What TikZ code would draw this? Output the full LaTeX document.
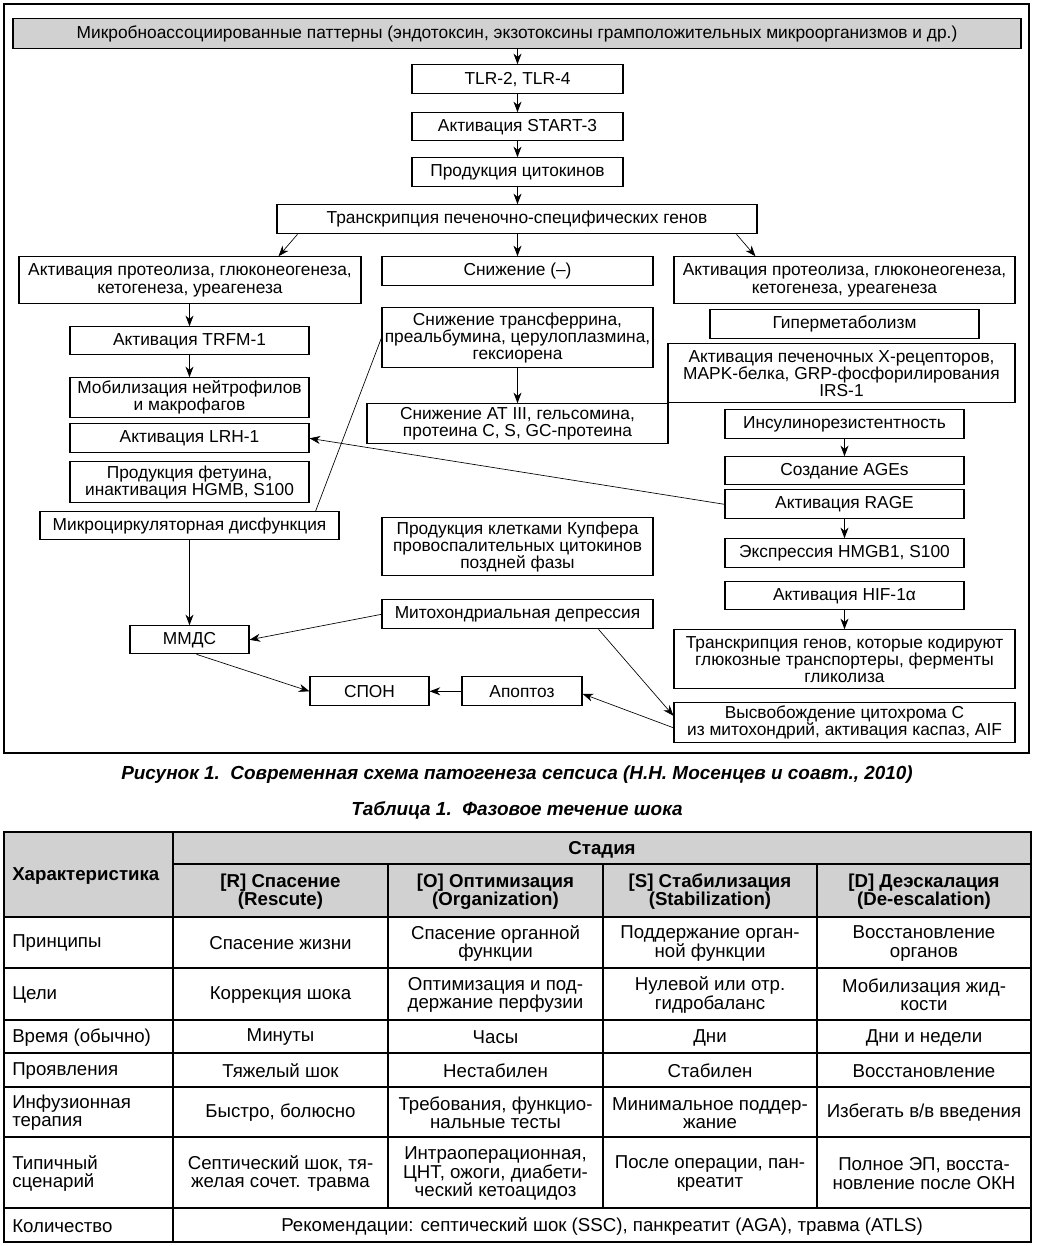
\documentclass[tikz,border=0pt]{standalone}
\usepackage{fontspec}
\setmainfont{Liberation Sans}
\usetikzlibrary{arrows.meta,calc}
\definecolor{hdr}{gray}{0.82}
\tikzset{
  box/.style={draw, line width=0.8pt, inner sep=0pt, align=center, fill=white,
    font=\fontsize{13}{12.8}\selectfont},
  arr/.style={line width=0.75pt, -{Stealth[length=8pt,width=6pt,inset=2.5pt]}},
  tarr/.style={line width=0.5pt, -{Stealth[length=8pt,width=6pt,inset=2.5pt]}},
  tline/.style={line width=0.5pt},
  cell/.style={inner sep=0pt, align=center, font=\fontsize{14}{13.7}\selectfont},
  lcell/.style={inner sep=0pt, align=left, anchor=west, font=\fontsize{14}{13.7}\selectfont},
  hcell/.style={inner sep=0pt, align=center, font=\fontsize{14}{13.7}\selectfont\bfseries},
  grid/.style={line width=0.8pt},
  capt/.style={inner sep=0pt, font=\fontsize{14.2}{15}\selectfont\bfseries\itshape}
}
\newcommand\bx[7][]{\node[box,#1,minimum width={(#5-#3)*0.75pt},minimum height={(#6-#4)*0.75pt}] (#2) at ({(#3+#5)/2},{(#4+#6)/2+0.8}) {#7};}
\begin{document}
\begin{tikzpicture}[x=0.75pt,y=-0.75pt]
\useasboundingbox (0,0) rectangle (1036,1246);
% frame
\draw[line width=0.8pt] (4,4) rectangle (1029,753);
% boxes
\bx[fill=hdr]{top}{13}{18}{1021}{48}{Микробноассоциированные паттерны (эндотоксин, экзотоксины грамположительных микроорганизмов и др.)}
\bx{tlr}{412}{64}{623}{93}{TLR-2, TLR-4}
\bx{start}{412}{112}{623}{140}{Активация START-3}
\bx{cyto}{412}{157}{623}{186}{Продукция цитокинов}
\bx{trans}{277}{204}{757}{233}{Транскрипция печеночно-специфических генов}
\bx{lprot}{19}{256}{361}{303}{Активация протеолиза, глюконеогенеза,\\кетогенеза, уреагенеза}
\bx{dec}{382}{256}{653}{285}{Снижение (–)}
\bx{rprot}{674}{256}{1015}{303}{Активация протеолиза, глюконеогенеза,\\кетогенеза, уреагенеза}
\bx{trfm}{70}{326}{309}{354}{Активация TRFM-1}
\bx{mob}{70}{377}{309}{417}{Мобилизация нейтрофилов\\и макрофагов}
\bx{lrh}{70}{423}{309}{452}{Активация LRH-1}
\bx{fet}{70}{461}{309}{502}{Продукция фетуина,\\инактивация HGMB, S100}
\bx{micro}{40}{511}{339}{539}{Микроциркуляторная дисфункция}
\bx{transf}{382}{307}{653}{367}{Снижение трансферрина,\\преальбумина, церулоплазмина,\\гексиорена}
\bx{at3}{367}{403}{668}{443}{Снижение AT III, гельсомина,\\протеина C, S, GC-протеина}
\bx{hyper}{710}{309}{979}{338}{Гиперметаболизм}
\bx{xrec}{668}{343}{1015}{402}{Активация печеночных X-рецепторов,\\MAPK-белка, GRP-фосфорилирования\\IRS-1}
\bx{insul}{725}{409}{964}{438}{Инсулинорезистентность}
\bx{ages}{725}{456}{964}{484}{Создание AGEs}
\bx{rage}{725}{489}{964}{518}{Активация RAGE}
\bx{hmgb}{725}{538}{964}{567}{Экспрессия HMGB1, S100}
\bx{hif}{725}{581}{964}{609}{Активация HIF-1α}
\bx{glyc}{674}{629}{1015}{688}{Транскрипция генов, которые кодируют\\глюкозные транспортеры, ферменты\\гликолиза}
\bx{cytc}{674}{702}{1015}{742}{Высвобождение цитохрома C\\из митохондрий, активация каспаз, AIF}
\bx{kupf}{382}{517}{653}{575}{Продукция клетками Купфера\\провоспалительных цитокинов\\поздней фазы}
\bx{mito}{382}{599}{653}{628}{Митохондриальная депрессия}
\bx{mmds}{130}{625}{249}{653}{ММДС}
\bx{spon}{310}{676}{429}{705}{СПОН}
\bx{apop}{462}{676}{582}{705}{Апоптоз}
% connectors
\draw[arr] (top.south -| tlr.north) -- (tlr.north);
\draw[arr] (tlr) -- (start);
\draw[arr] (start) -- (cyto);
\draw[arr] (cyto.south) -- (cyto.south |- trans.north);
\draw[arr] (trans.south -| dec.north) -- (dec.north);
\draw[tarr] ($(trans.south west)+(21,0)$) -- ($(lprot.north east)+(-83,0)$);
\draw[tarr] ($(trans.south east)+(-21,0)$) -- ($(rprot.north west)+(82,0)$);
\draw[arr] (lprot.south -| trfm.north) -- (trfm.north);
\draw[arr] (trfm) -- (mob);
\draw[arr] (micro.south -| mmds.north) -- (mmds.north);
\draw[tline] ($(micro.north east)+(-24,0)$) -- (transf.west);
\draw[arr] (transf.south -| at3.north) -- (at3.north);
\draw[arr] (insul) -- (ages);
\draw[arr] (rage) -- (hmgb);
\draw[arr] (hif) -- (glyc);
\draw[tarr] (rage.west) -- (lrh.east);
\draw[tarr] (mito.west) -- (mmds.east);
\draw[tarr] ($(mmds.south)+(7,0)$) -- (spon.west);
\draw[arr] (apop) -- (spon);
\draw[tarr] ($(mito.south east)+(-55,0)$) -- ($(cytc.west)+(0,-7)$);
\draw[tarr] ($(cytc.west)+(0,5)$) -- ($(apop.east)+(0,2.5)$);
% captions
\node[capt] (cap1) at (517,775) {Рисунок 1.\ \ Современная схема патогенеза сепсиса (Н.Н. Мосенцев и соавт., 2010)};
\node[capt] (cap2) at (517,810) {Таблица 1.\ \ Фазовое течение шока};
% table
\fill[hdr] (4,832) rectangle (1031,917);
\draw[grid] (4,832) rectangle (1031,1242);
\foreach \yy in {917,968,1020,1053,1087,1137,1208} \draw[grid] (4,\yy) -- (1031,\yy);
\draw[grid] (173,864) -- (1031,864);
\draw[grid] (173,832) -- (173,1242);
\foreach \xx in {388,603,817} \draw[grid] (\xx,864) -- (\xx,1208);
\node[hcell, anchor=west] (hchar) at (12,876) {Характеристика};
\node[hcell] (hstage) at (602,849.5) {Стадия};
\node[hcell] (hR) at (280.5,891.5) {[R] Спасение\\(Rescute)};
\node[hcell] (hO) at (495.5,891.5) {[O] Оптимизация\\(Organization)};
\node[hcell] (hS) at (710,891.5) {[S] Стабилизация\\(Stabilization)};
\node[hcell] (hD) at (924,891.5) {[D] Деэскалация\\(De-escalation)};
% row 1
\node[lcell] (r1a) at (12,943.5) {Принципы};
\node[cell] (r1b) at (280.5,943.5) {Спасение жизни};
\node[cell] (r1c) at (495.5,943.5) {Спасение органной\\функции};
\node[cell] (r1d) at (710,943.5) {Поддержание орган-\\ной функции};
\node[cell] (r1e) at (924,943.5) {Восстановление\\органов};
% row 2
\node[lcell] (r2a) at (12,995) {Цели};
\node[cell] (r2b) at (280.5,995) {Коррекция шока};
\node[cell] (r2c) at (495.5,995) {Оптимизация и под-\\держание перфузии};
\node[cell] (r2d) at (710,995) {Нулевой или отр.\\гидробаланс};
\node[cell] (r2e) at (924,995) {Мобилизация жид-\\кости};
% row 3
\node[lcell] (r3a) at (12,1037.5) {Время (обычно)};
\node[cell] (r3b) at (280.5,1037.5) {Минуты};
\node[cell] (r3c) at (495.5,1037.5) {Часы};
\node[cell] (r3d) at (710,1037.5) {Дни};
\node[cell] (r3e) at (924,1037.5) {Дни и недели};
% row 4
\node[lcell] (r4a) at (12,1071) {Проявления};
\node[cell] (r4b) at (280.5,1071) {Тяжелый шок};
\node[cell] (r4c) at (495.5,1071) {Нестабилен};
\node[cell] (r4d) at (710,1071) {Стабилен};
\node[cell] (r4e) at (924,1071) {Восстановление};
% row 5
\node[lcell] (r5a) at (12,1113) {Инфузионная\\терапия};
\node[cell] (r5b) at (280.5,1113) {Быстро, болюсно};
\node[cell] (r5c) at (495.5,1113) {Требования, функцио-\\нальные тесты};
\node[cell] (r5d) at (710,1113) {Минимальное поддер-\\жание};
\node[cell] (r5e) at (924,1113) {Избегать в/в введения};
% row 6
\node[lcell] (r6a) at (12,1173.5) {Типичный\\сценарий};
\node[cell] (r6b) at (280.5,1173.5) {Септический шок, тя-\\желая сочет. травма};
\node[cell] (r6c) at (495.5,1173.5) {Интраоперационная,\\ЦНТ, ожоги, диабети-\\ческий кетоацидоз};
\node[cell] (r6d) at (710,1173.5) {После операции, пан-\\креатит};
\node[cell] (r6e) at (924,1173.5) {Полное ЭП, восста-\\новление после ОКН};
% row 7
\node[lcell] (r7a) at (12,1226) {Количество};
\node[cell] (r7b) at (602,1226) {Рекомендации: септический шок (SSC), панкреатит (AGA), травма (ATLS)};
\end{tikzpicture}
\end{document}
